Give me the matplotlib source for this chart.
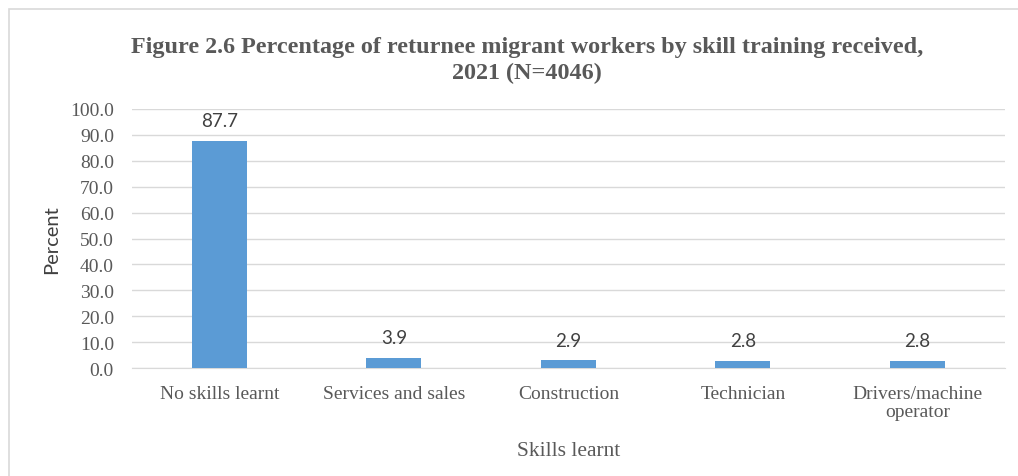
import matplotlib.pyplot as plt
from matplotlib.patches import Rectangle

# Skill training categories and share of returnees (%)
skills = ['No skills learnt', 'Services and sales', 'Construction',
          'Technician', 'Drivers/machine\noperator']
percent = [87.7, 3.9, 2.9, 2.8, 2.8]
yticks = [0, 10, 20, 30, 40, 50, 60, 70, 80, 90, 100]

text_grey = '#595959'
serif = 'Liberation Serif'

fig = plt.figure(figsize=(10.18, 4.77), dpi=100)
ax = fig.add_axes([0.1297, 0.2264, 0.8573, 0.543])

x = range(len(skills))
bars = ax.bar(x, percent, width=0.315, color='#5B9BD5', zorder=3)

for xi, val in zip(x, percent):
    ax.text(xi, val + 7.8, f'{val:.1f}', ha='center', va='center',
            fontsize=13.5, family='Lato', color='#404040', zorder=4)

ax.set_xlim(-0.5, len(skills) - 0.5)
ax.set_ylim(0, 100)
ax.set_yticks(yticks)
ax.set_yticklabels([f'{v:.1f}' for v in yticks], family=serif,
                   fontsize=14, color=text_grey)
ax.set_xticks(list(x))
ax.set_xticklabels(skills, family=serif, fontsize=14, color=text_grey,
                   linespacing=1.1)
ax.tick_params(axis='both', length=0)
ax.tick_params(axis='x', pad=12)
ax.tick_params(axis='y', pad=13)

ax.grid(axis='y', color='#D9D9D9', linewidth=1, zorder=0)
for side in ['top', 'right', 'left']:
    ax.spines[side].set_visible(False)
ax.spines['bottom'].set_color('#D9D9D9')
ax.spines['bottom'].set_zorder(1)

ax.set_ylabel('Percent', family='Lato', fontsize=14.5, color='#404040',
              labelpad=7)
ax.set_xlabel('Skills learnt', family=serif, fontsize=15.5, color=text_grey,
              labelpad=15)

fig.text(0.518, 0.873,
         'Figure 2.6 Percentage of returnee migrant workers by skill training received,\n2021 (N=4046)',
         ha='center', va='center', family=serif, fontweight='bold',
         fontsize=17.4, color=text_grey, linespacing=1.3)

# chart area outline
fig.patches.append(Rectangle((9 / 1018, -0.1), 1.2, 1 - 10 / 477 + 0.1,
                             transform=fig.transFigure, fill=False,
                             edgecolor='#D9D9D9', linewidth=1.2))

fig.savefig('out.png', dpi=100)
